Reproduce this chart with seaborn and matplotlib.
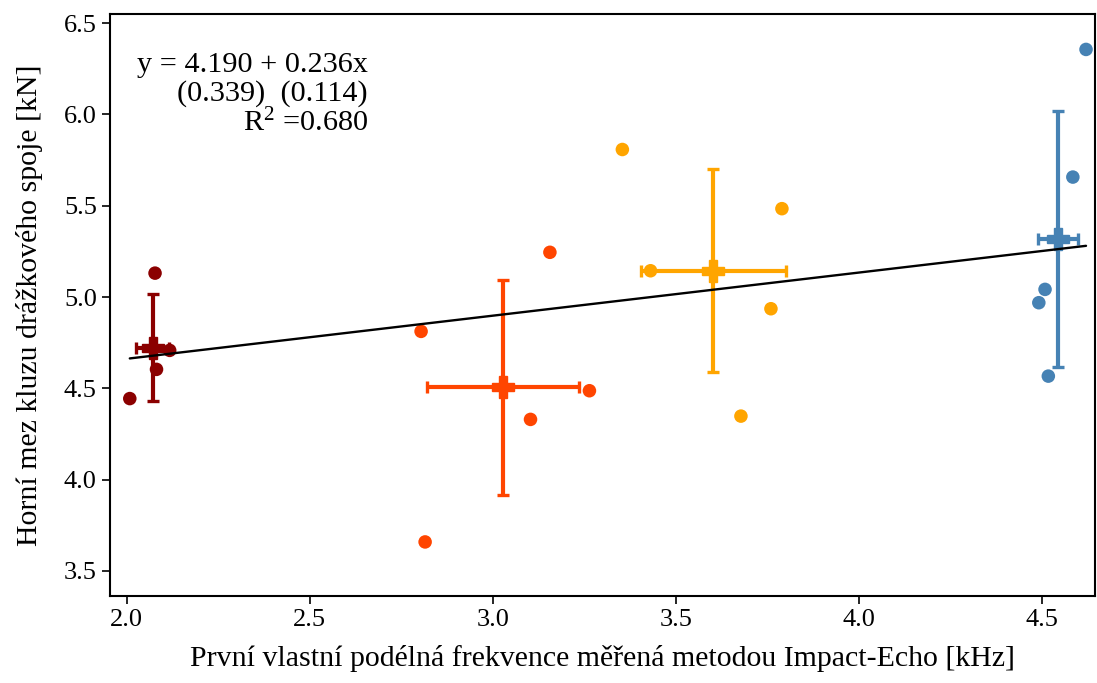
"""
Mez kluzu drážkového spoje vs. první podélná frekvence (Impact-Echo)
"""

import numpy as np
import pandas as pd
import matplotlib
matplotlib.use("Agg")
import matplotlib.pyplot as plt
import seaborn as sns

# data
groups = ["A", "B", "C", "D"]
colors = ["#8B0000", "#FF4500", "#FFA500", "#4682B4"]

freq_a = [2.008, 2.077, 2.081, 2.117]
load_a = [4.444, 5.131, 4.604, 4.708]

freq_b = [2.804, 2.815, 3.103, 3.156, 3.264]
load_b = [4.812, 3.659, 4.330, 5.245, 4.487]

freq_c = [3.354, 3.431, 3.678, 3.760, 3.790]
load_c = [5.808, 5.144, 4.348, 4.936, 5.484]

freq_d = [4.492, 4.509, 4.518, 4.585, 4.621]
load_d = [4.969, 5.042, 4.567, 5.657, 6.356]

# regrese (z popisku)
intercept = 4.190
slope = 0.236
fit_text = "y = 4.190 + 0.236x\n(0.339)  (0.114)\nR$^2$ =0.680"

xlabel = "První vlastní podélná frekvence měřená metodou Impact-Echo [kHz]"
ylabel = "Horní mez kluzu drážkového spoje [kN]"

sns.set_theme(style="ticks")
plt.rcParams["font.family"] = ["Liberation Serif", "DejaVu Serif"]
plt.rcParams["mathtext.fontset"] = "custom"
plt.rcParams["mathtext.rm"] = "Liberation Serif"
plt.rcParams["mathtext.it"] = "Liberation Serif:italic"
plt.rcParams["text.color"] = "black"
plt.rcParams["axes.labelcolor"] = "black"
plt.rcParams["xtick.color"] = "black"
plt.rcParams["ytick.color"] = "black"

df = pd.DataFrame({
    "freq": freq_a + freq_b + freq_c + freq_d,
    "load": load_a + load_b + load_c + load_d,
    "grp": (["A"] * len(freq_a) + ["B"] * len(freq_b)
            + ["C"] * len(freq_c) + ["D"] * len(freq_d)),
})

fig = plt.figure(figsize=(10.97, 6.83), dpi=100)
ax = fig.add_axes([0.1003, 0.1274, 0.8977, 0.8521])

sns.scatterplot(data=df, x="freq", y="load", hue="grp", hue_order=groups,
                palette=colors, s=95, linewidth=0, legend=False, ax=ax, zorder=2)

# průměry a směrodatné odchylky
for g, c in zip(groups, colors):
    sub = df[df["grp"] == g]
    ax.errorbar(sub["freq"].mean(), sub["load"].mean(),
                xerr=sub["freq"].std(), yerr=sub["load"].std(),
                fmt="P", color=c, ms=16, elinewidth=3, capsize=4.5,
                capthick=2.4, zorder=3)

xx = np.array([df["freq"].min(), df["freq"].max()])
ax.plot(xx, intercept + slope * xx, color="black", lw=1.7, zorder=4)

ax.text(0.262, 0.935, fit_text, transform=ax.transAxes, ha="right", va="top",
        multialignment="right", fontsize=21.8, linespacing=1.1)

ax.set_xlim(1.954, 4.645)
ax.set_ylim(3.363, 6.55)
ax.set_xticks([2.0, 2.5, 3.0, 3.5, 4.0, 4.5])
ax.set_yticks([3.5, 4.0, 4.5, 5.0, 5.5, 6.0, 6.5])
ax.set_xlabel(xlabel, fontsize=21.5, labelpad=10)
ax.set_ylabel(ylabel, fontsize=21.5, labelpad=15)
ax.tick_params(labelsize=19, length=6, width=1.2, color="black")
for sp in ax.spines.values():
    sp.set_color("black")
    sp.set_linewidth(1.5)

fig.savefig("out.png", dpi=100)
